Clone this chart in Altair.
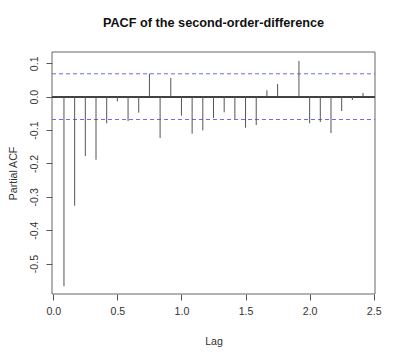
import altair as alt
import pandas as pd

lags = [k / 12 for k in range(1, 30)]
pacf = [-0.568, -0.327, -0.178, -0.189, -0.080, -0.014, -0.073, -0.048, 0.069,
        -0.124, 0.056, -0.057, -0.111, -0.101, -0.064, -0.047, -0.067, -0.093,
        -0.085, 0.019, 0.038, -0.002, 0.107, -0.080, -0.076, -0.109, -0.043,
        -0.010, 0.011]
clim = [0.0685, -0.0685]
x_ticks = [0.0, 0.5, 1.0, 1.5, 2.0, 2.5]
y_ticks = [-0.5, -0.4, -0.3, -0.2, -0.1, 0.0, 0.1]
title_text = "PACF of the second-order-difference"

W, H = 323, 242
FONT = "Liberation Sans"

df = pd.DataFrame({"lag": lags, "pacf": pacf})
cdf = pd.DataFrame({"c": clim})
tdf = pd.DataFrame({"t": [title_text]})

xs = alt.Scale(domain=[-0.01, 2.51], nice=False, zero=False)
ys = alt.Scale(domain=[-0.5913, 0.1338], nice=False, zero=False)

lab = "replace(format(datum.value, '.1f'), '\u2212', '-')"

bars = alt.Chart(df).mark_rule(color="#555555", strokeWidth=1).encode(
    x=alt.X("lag:Q", scale=xs, axis=alt.Axis(
        values=x_ticks, labelExpr=lab, title="Lag", grid=False, domain=False,
        tickSize=6, tickColor="#555555", labelPadding=6, labelFontSize=10.6,
        labelFont=FONT, labelColor="#333333", titleFont=FONT, titleFontSize=10.6,
        titleFontWeight="normal", titleColor="#333333", titleY=47,
        titleBaseline="middle", titleX=W / 2)),
    y=alt.Y("pacf:Q", scale=ys, axis=alt.Axis(
        values=y_ticks, labelExpr=lab, title="Partial ACF", grid=False, domain=False,
        tickSize=6, tickColor="#555555", labelPadding=7, labelFontSize=10.6,
        labelFont=FONT, labelColor="#333333", labelAngle=-90, labelAlign="center",
        labelBaseline="bottom", titleFont=FONT, titleFontSize=10.6,
        titleFontWeight="normal", titleColor="#333333", titleAngle=-90,
        titleX=-39, titleY=H / 2, titleBaseline="middle", titleAlign="center")),
    y2=alt.datum(0),
)

zero = alt.Chart(df).mark_rule(color="#444444", strokeWidth=1).encode(
    x=alt.value(0), x2=alt.value(W), y=alt.datum(0, scale=ys)
)

conf = alt.Chart(cdf).mark_rule(color="#6a6aee", strokeWidth=1, strokeDash=[4, 3]).encode(
    x=alt.value(0), x2=alt.value(W), y=alt.Y("c:Q", scale=ys)
)

box = alt.Chart(tdf).mark_rect(fill=None, stroke="#666666", strokeWidth=1).encode(
    x=alt.value(0), x2=alt.value(W), y=alt.value(0), y2=alt.value(H)
)

title = alt.Chart(tdf).mark_text(
    font=FONT, fontSize=12.7, fontWeight="bold", color="#111111",
    align="center", baseline="alphabetic"
).encode(x=alt.value(W / 2), y=alt.value(-25), text="t:N")

chart = alt.layer(box, zero, conf, bars, title).properties(
    width=W, height=H,
    autosize=alt.AutoSizeParams(type="none"),
    padding={"left": 44, "top": 44, "right": 19, "bottom": 60},
).configure_view(stroke=None)

chart.save("out.html", embed_options={"renderer": "svg", "actions": False})
